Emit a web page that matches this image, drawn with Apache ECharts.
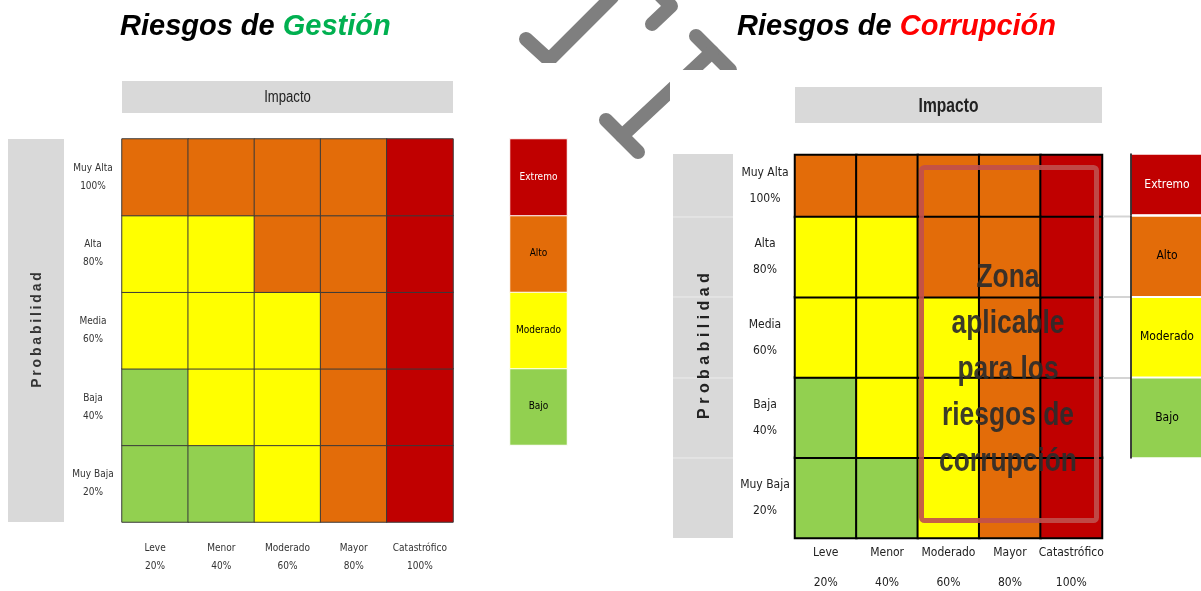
<!DOCTYPE html>
<html>
<head>
<meta charset="utf-8">
<title>Riesgos</title>
<script src="https://cdn.jsdelivr.net/npm/echarts@6/dist/echarts.min.js"></script>
<style>
  html, body { margin: 0; padding: 0; background: #fff; }
  #main { width: 1201px; height: 591px; }
</style>
</head>
<body>
<div id="main"></div>
<script>
// ejes: impacto (x) y probabilidad (y, de abajo hacia arriba)
var impacto = ["Leve\n20%", "Menor\n40%", "Moderado\n60%", "Mayor\n80%", "Catastrófico\n100%"];
var probabilidad = ["Muy Baja\n20%", "Baja\n40%", "Media\n60%", "Alta\n80%", "Muy Alta\n100%"];
var niveles = ["Bajo", "Moderado", "Alto", "Extremo"];
// nivel por fila (Muy Baja -> Muy Alta) y columna (Leve -> Catastrófico)
var matrizGestion = [
  [0, 0, 1, 2, 3],
  [0, 1, 1, 2, 3],
  [1, 1, 1, 2, 3],
  [1, 1, 2, 2, 3],
  [2, 2, 2, 2, 3]
];
var matrizCorrupcion = [
  [0, 0, 1, 2, 3],
  [0, 1, 1, 2, 3],
  [1, 1, 1, 2, 3],
  [1, 1, 2, 2, 3],
  [2, 2, 2, 2, 3]
];
var zonaTexto = ["Zona", "aplicable", "para los", "riesgos de", "corrupción"];

var colores = ["#92D050", "#FFFF00", "#E36C09", "#C00000"];
var narrow = "'DejaVu Sans Condensed', 'DejaVu Sans', sans-serif";
var arial = "'Liberation Sans', Arial, sans-serif";

// celdas de las filas pedidas, con el indice de fila relativo al grid
function celdas(matriz, filas) {
  var out = [];
  for (var j = 0; j < filas.length; j++) {
    for (var i = 0; i < impacto.length; i++) {
      out.push([i, j, matriz[filas[j]][i]]);
    }
  }
  return out;
}
function leyenda(idx) {
  var out = [];
  for (var j = 0; j < idx.length; j++) {
    out.push({
      value: [0, j, idx[j]],
      label: { color: idx[j] === 3 ? "#fff" : "#000" }
    });
  }
  return out;
}
function pick(arr, idx) {
  return idx.map(function(k) { return arr[k]; });
}
function eje(grid, data, label) {
  return {
    type: "category",
    gridIndex: grid,
    data: data,
    z: 5,
    axisLine: { show: false },
    axisTick: { show: false },
    splitLine: { show: false },
    axisLabel: label || { show: false }
  };
}
function caja(left, top, width, height) {
  return { left: left, top: top, width: width, height: height, outerBoundsMode: "none", containLabel: false };
}

var labIzqY = { interval: 0, align: "center", margin: 29, fontSize: 10, lineHeight: 18, color: "#333", fontFamily: narrow };
var labIzqX = { interval: 0, margin: 17, fontSize: 10, lineHeight: 18, color: "#333", fontFamily: narrow };
var labDerY = { interval: 0, align: "center", margin: 30, fontSize: 12, lineHeight: 26, color: "#222", fontFamily: narrow };
var labDerX = { interval: 0, margin: 0, fontSize: 12, lineHeight: 30, color: "#222", fontFamily: narrow };

var filasArriba = [4], filasAbajo = [0, 1, 2, 3];
var legArriba = [3], legAbajo = [0, 1, 2];

var ejeLeyDer = function(grid, data) {
  var a = eje(grid, data);
  a.axisLine = { show: true, lineStyle: { color: "#000", width: 1.5 } };
  return a;
};
var nombreNivel = function(p) { return niveles[p.value[2]]; };

var myChart = echarts.init(document.getElementById("main"));
var option = {
  backgroundColor: "#fff",
  animation: false,
  grid: [
    caja(122, 139, 331, 383),
    caja(510, 139, 57, 306),
    caja(795, 155, 307, 62),
    caja(795, 217, 307, 321),
    caja(1131, 154, 72, 61),
    caja(1131, 216, 72, 242)
  ],
  xAxis: [
    eje(0, impacto, labIzqX),
    eje(1, [""]),
    eje(2, impacto),
    eje(3, impacto, labDerX),
    eje(4, [""]),
    eje(5, [""])
  ],
  yAxis: [
    eje(0, probabilidad, labIzqY),
    eje(1, niveles),
    eje(2, pick(probabilidad, filasArriba), labDerY),
    eje(3, pick(probabilidad, filasAbajo), labDerY),
    ejeLeyDer(4, pick(niveles, legArriba)),
    ejeLeyDer(5, pick(niveles, legAbajo))
  ],
  visualMap: {
    type: "piecewise",
    show: false,
    dimension: 2,
    seriesIndex: [0, 1, 2, 3, 4, 5],
    pieces: [
      { value: 0, color: colores[0] },
      { value: 1, color: colores[1] },
      { value: 2, color: colores[2] },
      { value: 3, color: colores[3] }
    ]
  },
  series: [
    {
      type: "heatmap", xAxisIndex: 0, yAxisIndex: 0,
      data: celdas(matrizGestion, [0, 1, 2, 3, 4]),
      itemStyle: { borderColor: "#3a3a3a", borderWidth: 1 }
    },
    {
      type: "heatmap", xAxisIndex: 1, yAxisIndex: 1,
      data: leyenda([0, 1, 2, 3]),
      itemStyle: { borderColor: "#fff", borderWidth: 1 },
      label: { show: true, fontSize: 10, fontFamily: narrow, formatter: nombreNivel }
    },
    {
      type: "heatmap", xAxisIndex: 2, yAxisIndex: 2,
      data: celdas(matrizCorrupcion, filasArriba),
      itemStyle: { borderColor: "#000", borderWidth: 2 }
    },
    {
      type: "heatmap", xAxisIndex: 3, yAxisIndex: 3,
      data: celdas(matrizCorrupcion, filasAbajo),
      itemStyle: { borderColor: "#000", borderWidth: 2 }
    },
    {
      type: "heatmap", xAxisIndex: 4, yAxisIndex: 4,
      data: leyenda(legArriba),
      itemStyle: { borderColor: "#fff", borderWidth: 2 },
      label: { show: true, fontSize: 12, fontFamily: narrow, formatter: nombreNivel }
    },
    {
      type: "heatmap", xAxisIndex: 5, yAxisIndex: 5,
      data: leyenda(legAbajo),
      itemStyle: { borderColor: "#fff", borderWidth: 2 },
      label: { show: true, fontSize: 12, fontFamily: narrow, formatter: nombreNivel }
    }
  ],
  graphic: [
    // marca de agua gris
    { type: "polyline", z: 0, shape: { points: [[526, 39], [549, 60], [612, -3]] },
      style: { stroke: "#7f7f7f", fill: null, lineWidth: 14, lineCap: "round", lineJoin: "round" } },
    { type: "polyline", z: 0, shape: { points: [[652, 24], [671, 6], [655, -10]] },
      style: { stroke: "#7f7f7f", fill: null, lineWidth: 14, lineCap: "round", lineJoin: "round" } },
    { type: "line", z: 0, shape: { x1: 696, y1: 36, x2: 730, y2: 70 },
      style: { stroke: "#7f7f7f", lineWidth: 14, lineCap: "round" } },
    { type: "line", z: 0, shape: { x1: 622, y1: 136, x2: 712, y2: 52 },
      style: { stroke: "#7f7f7f", lineWidth: 14, lineCap: "round" } },
    { type: "line", z: 0, shape: { x1: 606, y1: 120, x2: 638, y2: 152 },
      style: { stroke: "#7f7f7f", lineWidth: 14, lineCap: "round" } },
    { type: "rect", z: 1, shape: { x: 0, y: 63, width: 573, height: 528 }, style: { fill: "#fff" } },
    { type: "rect", z: 1, shape: { x: 573, y: 63, width: 97, height: 14 }, style: { fill: "#fff" } },
    { type: "rect", z: 1, shape: { x: 670, y: 70, width: 531, height: 521 }, style: { fill: "#fff" } },

    // titulos
    { type: "text", z: 10, x: 120, y: 27,
      style: { text: "{a|Riesgos de }{g|Gestión}", verticalAlign: "middle", align: "left",
        rich: {
          a: { fontSize: 29, fontWeight: "bold", fontStyle: "italic", fontFamily: arial, fill: "#000" },
          g: { fontSize: 29, fontWeight: "bold", fontStyle: "italic", fontFamily: arial, fill: "#00B050" }
        } } },
    { type: "text", z: 10, x: 737, y: 27,
      style: { text: "{a|Riesgos de }{r|Corrupción}", verticalAlign: "middle", align: "left",
        rich: {
          a: { fontSize: 29, fontWeight: "bold", fontStyle: "italic", fontFamily: arial, fill: "#000" },
          r: { fontSize: 29, fontWeight: "bold", fontStyle: "italic", fontFamily: arial, fill: "#FF0000" }
        } } },

    // cabeceras Impacto
    { type: "rect", z: 3, shape: { x: 122, y: 81, width: 331, height: 32 }, style: { fill: "#D9D9D9" } },
    { type: "text", z: 10, x: 287.5, y: 98, scaleX: 0.82,
      style: { text: "Impacto", align: "center", verticalAlign: "middle", fontSize: 16, fontFamily: arial, fill: "#222" } },
    { type: "rect", z: 3, shape: { x: 795, y: 87, width: 307, height: 36 }, style: { fill: "#D9D9D9" } },
    { type: "text", z: 10, x: 948.5, y: 106, scaleX: 0.78,
      style: { text: "Impacto", align: "center", verticalAlign: "middle", fontSize: 20, fontWeight: "bold", fontFamily: arial, fill: "#222" } },

    // barras Probabilidad
    { type: "rect", z: 3, shape: { x: 8, y: 139, width: 56, height: 383 }, style: { fill: "#D9D9D9" } },
    { type: "text", z: 10, x: 37, y: 330, rotation: Math.PI / 2,
      style: { text: "Probabilidad".split("").join("\u2009"), align: "center", verticalAlign: "middle",
        fontSize: 14, fontWeight: "bold", fontFamily: arial, fill: "#333" } },
    { type: "rect", z: 3, shape: { x: 673, y: 154, width: 60, height: 384 }, style: { fill: "#D9D9D9" } },
    { type: "line", z: 4, shape: { x1: 673, y1: 217, x2: 733, y2: 217 }, style: { stroke: "#ececec", lineWidth: 1 } },
    { type: "line", z: 4, shape: { x1: 673, y1: 297, x2: 733, y2: 297 }, style: { stroke: "#ececec", lineWidth: 1 } },
    { type: "line", z: 4, shape: { x1: 673, y1: 378, x2: 733, y2: 378 }, style: { stroke: "#ececec", lineWidth: 1 } },
    { type: "line", z: 4, shape: { x1: 673, y1: 458, x2: 733, y2: 458 }, style: { stroke: "#ececec", lineWidth: 1 } },
    { type: "text", z: 10, x: 705, y: 346, rotation: Math.PI / 2,
      style: { text: "Probabilidad".split("").join(" "), align: "center", verticalAlign: "middle",
        fontSize: 16, fontWeight: "bold", fontFamily: arial, fill: "#222" } },

    // lineas grises hacia la leyenda derecha
    { type: "line", z: 4, shape: { x1: 1103, y1: 216.5, x2: 1131, y2: 216.5 }, style: { stroke: "#d4d4d4", lineWidth: 2 } },
    { type: "line", z: 4, shape: { x1: 1103, y1: 297, x2: 1131, y2: 297 }, style: { stroke: "#d4d4d4", lineWidth: 2 } },
    { type: "line", z: 4, shape: { x1: 1103, y1: 378, x2: 1131, y2: 378 }, style: { stroke: "#d4d4d4", lineWidth: 2 } },

    // zona aplicable
    { type: "rect", z: 10, shape: { x: 921.5, y: 167.5, width: 175, height: 353, r: 3 },
      style: { fill: null, stroke: "#C0504D", lineWidth: 5, opacity: 0.9 } },
    { type: "text", z: 11, x: 1008, y: 370, scaleX: 0.8,
      style: { text: zonaTexto.join("\n"), align: "center", verticalAlign: "middle", lineHeight: 46,
        fontSize: 33, fontWeight: "bold", fontFamily: arial, fill: "#2b2b2b", opacity: 0.92 } }
  ]
};
myChart.setOption(option);
</script>
</body>
</html>
